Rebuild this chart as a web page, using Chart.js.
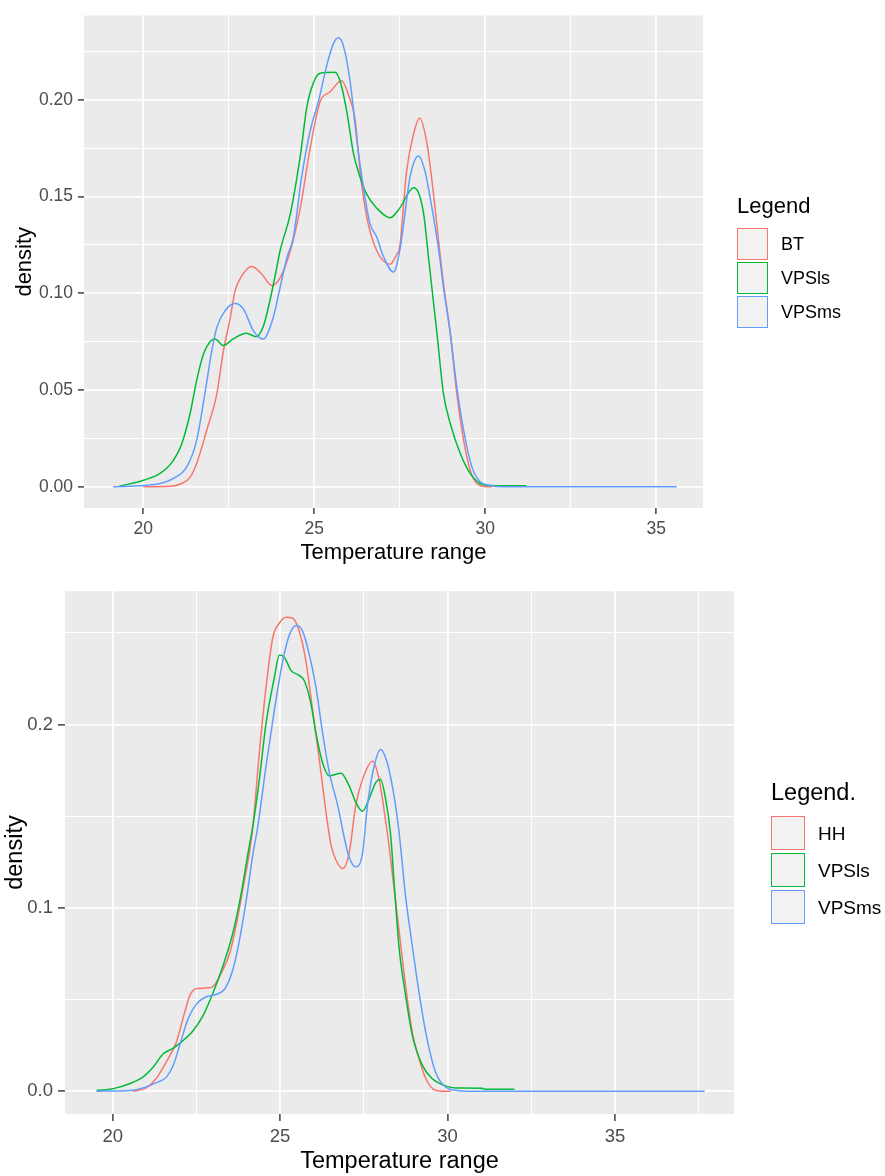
<!DOCTYPE html>
<html lang="en">
<head>
<meta charset="UTF-8">
<title>Temperature range density</title>
<script src="https://cdn.jsdelivr.net/npm/chart.js@4.4.1/dist/chart.umd.min.js"></script>
<style>
  body { margin: 0; background: #fff; font-family: "Liberation Sans", Arial, sans-serif; }
  #wrap { position: relative; width: 885px; height: 1176px; overflow: hidden; }
  canvas { position: absolute; left: 0; }
  #topChart { top: 0; }
  #bottomChart { top: 575px; }
  .lg-title, .lg-label { position: absolute; line-height: 1; color: #000; white-space: nowrap; }
  .lg-key { position: absolute; box-sizing: border-box; background: #f2f2f2; border: 1.5px solid; }
</style>
</head>
<body>
<div id="wrap">
  <canvas id="topChart" width="885" height="575"></canvas>
  <canvas id="bottomChart" width="885" height="601"></canvas>
  <div id="topLegend"></div>
  <div id="bottomLegend"></div>
</div>
<script>
// ---- top panel data ----
const topXTicks = [20, 25, 30, 35];
const topYTicks = [0, 0.05, 0.10, 0.15, 0.20];
const topYLabels = ['0.00', '0.05', '0.10', '0.15', '0.20'];
const topNames = ['BT', 'VPSls', 'VPSms'];

const btX = [20.0, 20.8, 21.12, 21.37, 21.56, 21.85, 22.15, 22.34, 22.54, 22.68, 22.88, 23.17, 23.46, 23.76, 24.0,
  24.3, 24.59, 24.88, 25.17, 25.46, 25.8, 26.0, 26.2, 26.34, 26.54, 26.83, 27.22, 27.41, 27.5, 27.7,
  27.9, 28.08, 28.3, 28.49, 28.68, 28.78, 28.98, 29.17, 29.37, 29.56, 29.76, 30.05, 30.2];
const btY = [0, 0.0003, 0.0017, 0.005, 0.012, 0.029, 0.048, 0.070, 0.087, 0.101, 0.109, 0.1138, 0.110, 0.104, 0.108,
  0.122, 0.144, 0.175, 0.199, 0.204, 0.2098, 0.2026, 0.189, 0.163, 0.139, 0.122, 0.115, 0.120, 0.124, 0.163,
  0.182, 0.1906, 0.177, 0.151, 0.120, 0.105, 0.079, 0.048, 0.024, 0.0086, 0.0017, 0, 0];

const lsTopX = [19.3, 20.0, 20.49, 20.88, 21.12, 21.37, 21.56, 21.76, 21.95, 22.1, 22.34, 22.63, 23.02, 23.3, 23.5,
  23.7, 23.9, 24.0, 24.3, 24.6, 24.78, 24.98, 25.17, 25.6, 25.76, 25.95, 26.15, 26.34, 26.54, 26.83,
  27.22, 27.5, 27.9, 28.05, 28.2, 28.34, 28.59, 28.78, 28.98, 29.27, 29.56, 29.85, 30.15, 31.2];
const lsTopY = [0.0003, 0.0034, 0.0069, 0.0137, 0.022, 0.038, 0.055, 0.0686, 0.075, 0.0764, 0.073, 0.0764, 0.0793, 0.0776, 0.0824,
  0.096, 0.113, 0.122, 0.141, 0.172, 0.196, 0.209, 0.2137, 0.2142, 0.2094, 0.194, 0.172, 0.160, 0.151, 0.144,
  0.139, 0.144, 0.1546, 0.152, 0.141, 0.1187, 0.079, 0.048, 0.0326, 0.0172, 0.0069, 0.0017, 0.0007, 0.0005];

const msTopX = [19.12, 20.0, 20.49, 20.88, 21.27, 21.56, 21.8, 22.0, 22.15, 22.39, 22.68, 22.93, 23.22, 23.51, 23.8,
  24.0, 24.2, 24.39, 24.63, 24.88, 25.12, 25.37, 25.56, 25.7, 25.85, 26.05, 26.24, 26.44, 26.63, 26.83,
  27.0, 27.32, 27.5, 27.6, 27.8, 28.05, 28.24, 28.44, 28.63, 28.78, 28.98, 29.17, 29.37, 29.61, 29.85,
  30.15, 30.5, 35.6];
const msTopY = [0, 0.0007, 0.0017, 0.0043, 0.0103, 0.024, 0.048, 0.070, 0.0824, 0.091, 0.0947, 0.0918, 0.0806, 0.0764, 0.0875,
  0.103, 0.1184, 0.129, 0.160, 0.184, 0.199, 0.218, 0.229, 0.232, 0.228, 0.2094, 0.180, 0.1546, 0.136, 0.129,
  0.120, 0.111, 0.122, 0.134, 0.160, 0.171, 0.163, 0.1443, 0.1236, 0.103, 0.079, 0.0515, 0.029, 0.0103, 0.0026,
  0.0007, 0, 0];

// ---- bottom panel data ----
const bottomXTicks = [20, 25, 30, 35];
const bottomYTicks = [0, 0.1, 0.2];
const bottomYLabels = ['0.0', '0.1', '0.2'];
const bottomNames = ['HH', 'VPSls', 'VPSms'];

const hhX = [20.6, 21.0, 21.3, 21.6, 21.9, 22.15, 22.3, 22.5, 22.95, 23.25, 23.5, 23.7, 23.9, 24.09, 24.19,
  24.38, 24.58, 24.78, 24.98, 25.18, 25.38, 25.57, 25.77, 25.97, 26.17, 26.37, 26.52, 26.67, 26.87, 27.06,
  27.26, 27.46, 27.76, 27.96, 28.1, 28.25, 28.42, 28.55, 28.75, 28.95, 29.15, 29.35, 29.64, 29.94, 30.1];
const hhY = [0, 0.0018, 0.0069, 0.0159, 0.0267, 0.043, 0.052, 0.056, 0.0565, 0.0646, 0.0755, 0.0917, 0.1116, 0.131, 0.145,
  0.1846, 0.2204, 0.2473, 0.2554, 0.2586, 0.258, 0.251, 0.2348, 0.208, 0.181, 0.1523, 0.1344, 0.126, 0.1215, 0.1296,
  0.156, 0.170, 0.180, 0.170, 0.154, 0.1344, 0.108, 0.088, 0.0574, 0.032, 0.0177, 0.0069, 0.0005, 0, 0];

const lsBotX = [19.52, 20.02, 20.52, 20.91, 21.21, 21.51, 21.81, 22.1, 22.4, 22.7, 23.0, 23.29, 23.59, 23.84, 24.04,
  24.19, 24.38, 24.58, 24.83, 24.98, 25.13, 25.33, 25.53, 25.72, 25.92, 26.07, 26.27, 26.47, 26.82, 27.06,
  27.26, 27.46, 27.66, 27.86, 28.0, 28.15, 28.3, 28.42, 28.55, 28.75, 28.95, 29.25, 29.54, 29.94, 30.24,
  31.05, 31.1, 32.0];
const lsBotY = [0.0004, 0.0014, 0.0042, 0.0078, 0.0132, 0.0204, 0.0235, 0.0276, 0.033, 0.0412, 0.0538, 0.0682, 0.0863, 0.108, 0.1296,
  0.145, 0.170, 0.2007, 0.2258, 0.238, 0.2366, 0.2294, 0.2272, 0.224, 0.2115, 0.1953, 0.179, 0.172, 0.1735, 0.1667,
  0.1577, 0.1527, 0.1595, 0.1685, 0.170, 0.1595, 0.140, 0.11, 0.079, 0.052, 0.0303, 0.0141, 0.0069, 0.0029, 0.0018,
  0.0016, 0.001, 0.001];

const msBotX = [19.52, 20.52, 20.91, 21.31, 21.61, 21.81, 22.0, 22.25, 22.5, 22.75, 23.1, 23.34, 23.59, 23.79, 23.99,
  24.19, 24.34, 24.58, 24.83, 25.08, 25.28, 25.48, 25.67, 25.87, 26.07, 26.27, 26.47, 26.72, 26.92, 27.06,
  27.26, 27.46, 27.61, 27.81, 28.0, 28.2, 28.4, 28.55, 28.75, 28.95, 29.15, 29.35, 29.64, 29.94, 30.24,
  30.6, 37.68];
const msBotY = [0, 0.0004, 0.0018, 0.0047, 0.0078, 0.0141, 0.0249, 0.0394, 0.0475, 0.0511, 0.0529, 0.0556, 0.0664, 0.0827, 0.1043,
  0.1296, 0.145, 0.1774, 0.208, 0.2348, 0.249, 0.254, 0.251, 0.2384, 0.2204, 0.1953, 0.1738, 0.1559, 0.138, 0.1278,
  0.1224, 0.1296, 0.156, 0.1774, 0.1864, 0.1792, 0.1613, 0.1416, 0.106, 0.079, 0.0538, 0.0321, 0.0105, 0.0023, 0.0005,
  0, 0];

const seriesColors = ['#F8766D', '#00BA38', '#619CFF'];
const FONT = '"Liberation Sans", Arial, sans-serif';

// grey panel behind the grid, ggplot style
const panelBg = {
  id: 'panelBg',
  beforeDraw(chart) {
    const { ctx, chartArea: a } = chart;
    ctx.save();
    ctx.fillStyle = '#EBEBEB';
    ctx.fillRect(a.left, a.top, a.right - a.left, a.bottom - a.top);
    ctx.restore();
  }
};

// majors plus the minor lines half way between them
function withMinor(majors, min, max) {
  const step = majors[1] - majors[0];
  const out = majors.map(v => ({ value: v }));
  for (let v = majors[0] - step / 2; v <= max; v += step) {
    if (v >= min) out.push({ value: +v.toFixed(4), minor: true });
  }
  return out.sort((a, b) => a.value - b.value);
}

function axis(p, majors, labels, min, max, horizontal) {
  return {
    type: 'linear', min, max,
    afterBuildTicks: s => { s.ticks = withMinor(majors, min, max); },
    afterFit: s => { if (horizontal) s.height = p.xAxisH; else s.width = p.yAxisW; },
    border: { display: false },
    grid: {
      color: '#FFFFFF',
      lineWidth: c => (c.tick && c.tick.minor ? 1 : 1.8),
      tickColor: c => (c.tick && c.tick.minor ? 'rgba(0,0,0,0)' : '#333333'),
      tickWidth: 1.4,
      tickLength: horizontal ? p.xTickLen : p.yTickLen
    },
    ticks: {
      autoSkip: false, maxRotation: 0,
      color: '#4D4D4D',
      padding: horizontal ? p.xTickPad : p.yTickPad,
      font: { family: FONT, size: p.tickSize },
      callback: (v, i, ticks) => {
        if (ticks[i] && ticks[i].minor) return '';
        const k = majors.findIndex(m => Math.abs(m - v) < 1e-9);
        return k < 0 ? '' : labels[k];
      }
    },
    title: {
      display: true,
      text: horizontal ? 'Temperature range' : 'density',
      color: '#000000',
      font: { family: FONT, size: p.titleSize },
      padding: horizontal ? { top: 0, bottom: p.xTitlePad } : { top: p.yTitlePad, bottom: 0 }
    }
  };
}

function drawChart(id, p) {
  new Chart(document.getElementById(id), {
    type: 'line',
    data: {
      datasets: p.series.map((s, i) => ({
        label: p.names[i],
        data: s[0].map((x, j) => ({ x, y: s[1][j] })),
        borderColor: seriesColors[i],
        borderWidth: 1.5,
        pointRadius: 0,
        fill: false,
        cubicInterpolationMode: 'monotone',
        order: p.series.length - i
      }))
    },
    options: {
      responsive: false,
      animation: false,
      devicePixelRatio: 1,
      layout: { padding: { top: p.padTop, right: p.padRight, left: 0, bottom: 0 } },
      plugins: { legend: { display: false }, tooltip: { enabled: false } },
      scales: {
        x: axis(p, p.xTicks, p.xTicks.map(String), p.xMin, p.xMax, true),
        y: axis(p, p.yTicks, p.yLabels, p.yMin, p.yMax, false)
      }
    },
    plugins: [panelBg]
  });
}

function buildLegend(el, l, names) {
  let html = `<div class="lg-title" style="left:${l.left}px;top:${l.titleTop}px;font-size:${l.titleSize}px">${l.title}</div>`;
  names.forEach((n, i) => {
    const top = l.keyTop + i * l.keyStep;
    html += `<div class="lg-key" style="left:${l.left}px;top:${top}px;width:${l.keyW}px;height:${l.keyH}px;border-color:${seriesColors[i]}"></div>`;
    html += `<div class="lg-label" style="left:${l.labelLeft}px;top:${top + l.keyH / 2 - l.labelSize * 0.49}px;font-size:${l.labelSize}px">${n}</div>`;
  });
  el.innerHTML = html;
}

drawChart('topChart', {
  series: [[btX, btY], [lsTopX, lsTopY], [msTopX, msTopY]],
  names: topNames,
  xTicks: topXTicks, yTicks: topYTicks, yLabels: topYLabels,
  xMin: 18.265, xMax: 36.37, yMin: -0.01095, yMax: 0.24355,
  padTop: 13, padRight: 182, yAxisW: 84, xAxisH: 67,
  xTickLen: 6, yTickLen: 6, xTickPad: 5, yTickPad: 5,
  tickSize: 17.5, titleSize: 22, xTitlePad: 9, yTitlePad: 12
});

drawChart('bottomChart', {
  series: [[hhX, hhY], [lsBotX, lsBotY], [msBotX, msBotY]],
  names: bottomNames,
  xTicks: bottomXTicks, yTicks: bottomYTicks, yLabels: bottomYLabels,
  xMin: 18.576, xMax: 38.556, yMin: -0.01245, yMax: 0.2728,
  padTop: 12, padRight: 151, yAxisW: 65, xAxisH: 62,
  xTickLen: 7, yTickLen: 7, xTickPad: 5, yTickPad: 5,
  tickSize: 18.5, titleSize: 23.5, xTitlePad: 0, yTitlePad: 1
});

buildLegend(document.getElementById('topLegend'), {
  title: 'Legend', left: 737, titleTop: 195, titleSize: 22,
  keyTop: 228, keyStep: 34, keyW: 31, keyH: 32, labelLeft: 781, labelSize: 18
}, topNames);

buildLegend(document.getElementById('bottomLegend'), {
  title: 'Legend.', left: 771, titleTop: 781, titleSize: 23.5,
  keyTop: 816, keyStep: 37, keyW: 34, keyH: 34, labelLeft: 818, labelSize: 19
}, bottomNames);
</script>
</body>
</html>
